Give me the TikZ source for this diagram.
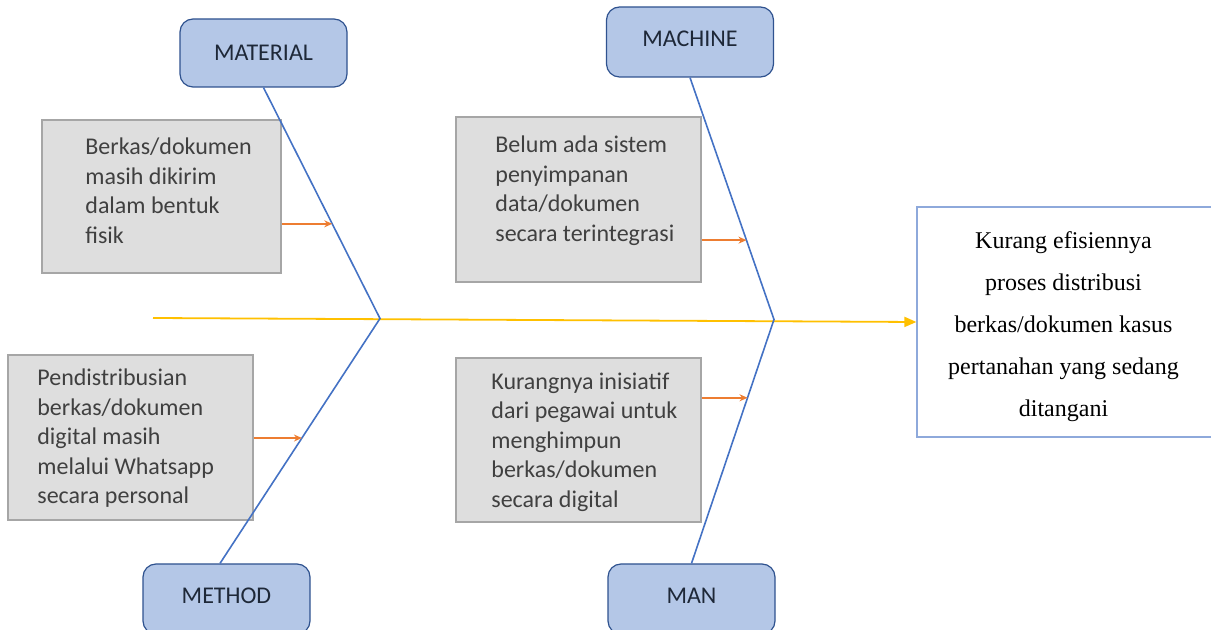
\documentclass[tikz,border=0pt]{standalone}
\usepackage{fontspec}
\setmainfont{Liberation Serif}
\newfontfamily\calibri{Carlito}
\usetikzlibrary{arrows.meta}
\definecolor{catfill}{HTML}{B4C7E7}
\definecolor{catdraw}{HTML}{2F528F}
\definecolor{cattext}{HTML}{1E2838}
\definecolor{bonecol}{HTML}{4472C4}
\definecolor{spinecol}{HTML}{FFC000}
\definecolor{causecol}{HTML}{ED7D31}
\definecolor{boxfill}{HTML}{DEDEDE}
\definecolor{boxdraw}{HTML}{A6A6A6}
\definecolor{effdraw}{HTML}{8EA9DB}
\tikzset{
  cat/.style={draw=catdraw, fill=catfill, line width=0.6pt, rounded corners=6.5pt,
    minimum width=83.5pt, minimum height=34pt, text=cattext,
    font=\calibri\fontsize{12}{14}\selectfont},
  causebox/.style={draw=boxdraw, fill=boxfill, line width=0.6pt, minimum width=122.5pt, minimum height=82.5pt},
  causetext/.style={anchor=west, align=left, inner sep=0pt, text=black!75,
    font=\calibri\fontsize{12}{14.75}\selectfont},
  bone/.style={draw=bonecol, line width=0.8pt},
  spine/.style={draw=spinecol, line width=0.9pt, -{Triangle[length=6pt,width=5pt]}},
  cause/.style={draw=causecol, line width=0.75pt, -{Stealth[length=4pt,width=3.5pt]}}
}

\begin{document}
\begin{tikzpicture}[x=0.5pt, y=-0.5pt]
  \useasboundingbox (0,0) rectangle (1211,630);
  \clip (0,0) rectangle (1211,630);
  \node[cat] (material) at (263.5,53) {MATERIAL};
  \node[cat, minimum height=35pt, text depth=3pt] (machine) at (690,42) {MACHINE};
  \node[cat, minimum height=35pt, text depth=3pt] (method) at (226.5,599) {METHOD};
  \node[cat, minimum height=35pt, text depth=3pt] (man) at (691.5,599) {MAN};

  \node[causebox, minimum width=119.5pt, minimum height=76.5pt] (matbox) at (161.5,196.5) {};
  \node[causetext] (mattext) at (85,191) {Berkas/dokumen\\masih dikirim\\dalam bentuk\\fisik};
  \node[causebox] (macbox) at (578.5,199.5) {};
  \node[causetext] (mactext) at (495,190.5) {Belum ada sistem\\penyimpanan\\data/dokumen\\secara terintegrasi};
  \node[causebox] (metbox) at (130.5,437.5) {};
  \node[causetext] (mettext) at (37,438.5) {Pendistribusian\\berkas/dokumen\\digital masih\\melalui Whatsapp\\secara personal};
  \node[causebox, minimum height=82pt] (manbox) at (578.5,440) {};
  \node[causetext] (mantext) at (491,442) {Kurangnya inisiatif\\dari pegawai untuk\\menghimpun\\berkas/dokumen\\secara digital};

  \node[draw=effdraw, fill=white, line width=0.6pt, minimum width=147.5pt, minimum height=115pt] (effect) at (1064.5,322) {};
  \node[align=center, font=\fontsize{12}{21}\selectfont] (efftext) at (1063.5,326.5)
    {Kurang efisiennya\\proses distribusi\\berkas/dokumen kasus\\pertanahan yang sedang\\ditangani};

  \coordinate (tail) at (153,318);
  \coordinate (j1) at (380,318.5);
  \coordinate (j2) at (774,319.5);
  \draw[spine] (tail) -- (effect.west);
  \draw[bone] (material.south) -- coordinate[pos=.59] (matpt) (j1)
    -- coordinate[pos=.488] (metpt) ([xshift=-3.25pt]method.north);
  \draw[bone] (machine.south) -- coordinate[pos=.672] (macpt) (j2)
    -- coordinate[pos=.321] (manpt) (man.north);
  \draw[cause] (matbox.east |- matpt) -- (matpt);
  \draw[cause] (macbox.east |- macpt) -- (macpt);
  \draw[cause] (metbox.east |- metpt) -- (metpt);
  \draw[cause] (manbox.east |- manpt) -- (manpt);
\end{tikzpicture}
\end{document}
